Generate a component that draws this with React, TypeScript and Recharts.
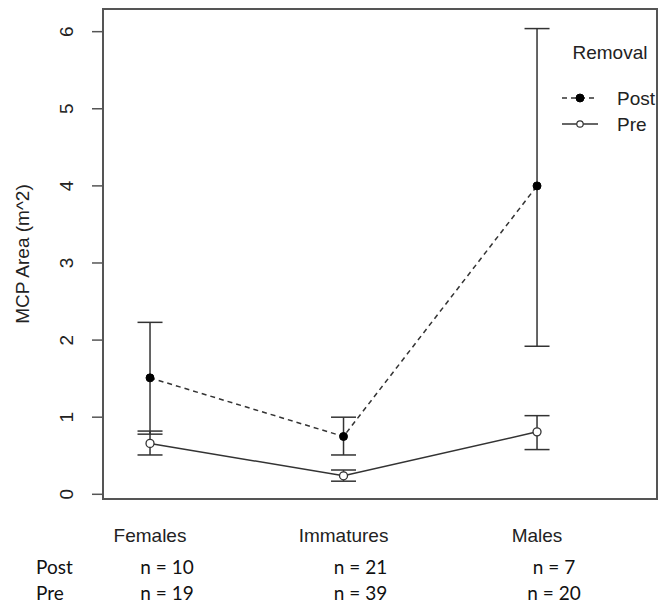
import React from "react";
import {
  ComposedChart,
  Line,
  XAxis,
  YAxis,
  ErrorBar,
  ReferenceArea,
} from "recharts";

const categories = ["Females", "Immatures", "Males"];
const postMean = [1.51, 0.75, 4.0];
const postLower = [0.78, 0.51, 1.92];
const postUpper = [2.23, 1.0, 6.04];
const preMean = [0.66, 0.24, 0.81];
const preLower = [0.51, 0.17, 0.58];
const preUpper = [0.82, 0.315, 1.02];
const postN = [10, 21, 7];
const preN = [19, 39, 20];
const yTicks = [0, 1, 2, 3, 4, 5, 6];

const data = categories.map((c, i) => ({
  x: i + 1,
  name: c,
  post: postMean[i],
  postErr: [postMean[i] - postLower[i], postUpper[i] - postMean[i]],
  pre: preMean[i],
  preErr: [preMean[i] - preLower[i], preUpper[i] - preMean[i]],
}));

const ink = "#333";
const axisFont = "'Liberation Sans', Arial, sans-serif";
const noteFont = "Lato, 'Noto Sans', sans-serif";

function XTick(props: any) {
  const { x, y, payload, index } = props;
  const i = payload.value - 1;
  return (
    <g>
      <text x={x} y={y + 35} textAnchor="middle" fontFamily={axisFont} fontSize={19} fill="#222">
        {categories[i]}
      </text>
      <text x={x + 17} y={y + 67} textAnchor="middle" fontFamily={noteFont} fontSize={19} fill="#111">
        {`n = ${postN[i]}`}
      </text>
      <text x={x + 17} y={y + 93} textAnchor="middle" fontFamily={noteFont} fontSize={19} fill="#111">
        {`n = ${preN[i]}`}
      </text>
      {index === 0 && (
        <>
          <text x={36} y={y + 67} fontFamily={noteFont} fontSize={19} fill="#111">Post</text>
          <text x={36} y={y + 93} fontFamily={noteFont} fontSize={19} fill="#111">Pre</text>
        </>
      )}
    </g>
  );
}

function YTick(props: any) {
  const { y, payload } = props;
  return (
    <text
      x={67}
      y={y}
      transform={`rotate(-90 67 ${y})`}
      textAnchor="middle"
      dominantBaseline="central"
      fontFamily={axisFont}
      fontSize={19}
      fill="#222"
    >
      {payload.value}
    </text>
  );
}

function YLabel() {
  return (
    <text
      x={22}
      y={254}
      transform="rotate(-90 22 254)"
      textAnchor="middle"
      dominantBaseline="central"
      fontFamily={axisFont}
      fontSize={19}
      fill="#222"
    >
      MCP Area (m^2)
    </text>
  );
}

function LegendOverlay() {
  return (
    <svg width={662} height={140} style={{ position: "absolute", left: 0, top: 0, pointerEvents: "none" }}>
      <text x={610} y={52} textAnchor="middle" dominantBaseline="central" fontFamily={axisFont} fontSize={19} fill="#222">
        Removal
      </text>
      <line x1={562} y1={98} x2={598} y2={98} stroke={ink} strokeWidth={1.5} strokeDasharray="5 4" />
      <circle cx={580} cy={98} r={4} fill="#000" stroke="#000" />
      <text x={617} y={98} dominantBaseline="central" fontFamily={axisFont} fontSize={19} fill="#222">Post</text>
      <line x1={562} y1={124} x2={598} y2={124} stroke={ink} strokeWidth={1.5} />
      <circle cx={580} cy={124} r={3.2} fill="#fff" stroke={ink} strokeWidth={1.2} />
      <text x={617} y={124} dominantBaseline="central" fontFamily={axisFont} fontSize={19} fill="#222">Pre</text>
    </svg>
  );
}

export default function App() {
  const xDomain: [number, number] = [0.757, 3.62];
  const yDomain: [number, number] = [-0.061, 6.294];
  return (
    <div style={{ position: "absolute", left: 0, top: 0, width: 662, height: 607, background: "#fff" }}>
      <ComposedChart width={662} height={607} data={data} margin={{ top: 9, right: 5, bottom: 0, left: 0 }}>
        <XAxis
          dataKey="x"
          type="number"
          domain={xDomain}
          ticks={[1, 2, 3]}
          allowDataOverflow
          axisLine={false}
          tickLine={false}
          height={108}
          tick={<XTick />}
          interval={0}
        />
        <YAxis
          type="number"
          domain={yDomain}
          ticks={yTicks}
          allowDataOverflow
          width={103}
          axisLine={false}
          tickSize={11}
          tickLine={{ stroke: "#555", strokeWidth: 1.5 }}
          tick={<YTick />}
          label={<YLabel />}
        />
        <ReferenceArea
          x1={xDomain[0]}
          x2={xDomain[1]}
          y1={yDomain[0]}
          y2={yDomain[1]}
          fill="none"
          stroke="#555"
          strokeWidth={2}
          ifOverflow="visible"
        />
        <Line
          dataKey="pre"
          stroke={ink}
          strokeWidth={1.5}
          isAnimationActive={false}
          dot={{ r: 4, fill: "#fff", stroke: ink, strokeWidth: 1.3 }}
          activeDot={false}
        >
          <ErrorBar dataKey="preErr" width={12.5} stroke={ink} strokeWidth={1.5} isAnimationActive={false} />
        </Line>
        <Line
          dataKey="post"
          stroke={ink}
          strokeWidth={1.5}
          strokeDasharray="5 4"
          isAnimationActive={false}
          dot={{ r: 4, fill: "#000", stroke: "#000", strokeWidth: 1, strokeDasharray: "" }}
          activeDot={false}
        >
          <ErrorBar dataKey="postErr" width={12.5} stroke={ink} strokeWidth={1.5} isAnimationActive={false} />
        </Line>
      </ComposedChart>
      <LegendOverlay />
    </div>
  );
}
